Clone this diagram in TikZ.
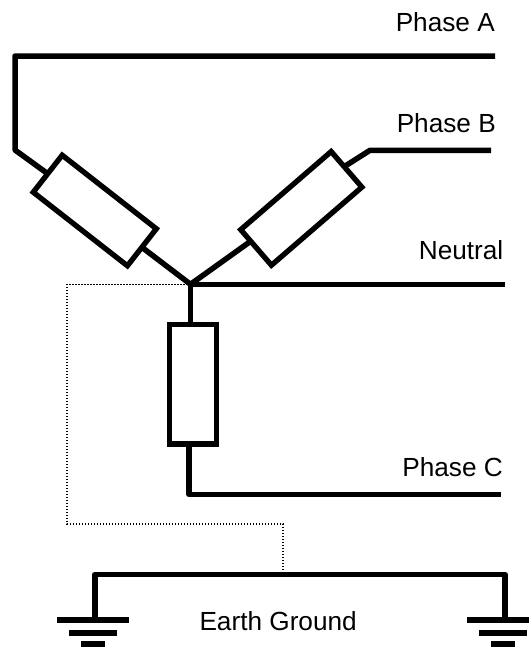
\documentclass[tikz,border=0pt]{standalone}
\usepackage{fontspec}
\setmainfont{Liberation Sans}
\tikzset{
  wire/.style={line width=5.5pt,line cap=butt,line join=round},
  res/.style={draw,line width=5.3pt,fill=white,rectangle,inner sep=0pt,outer sep=0pt,minimum width=119.5pt,minimum height=47pt},
  earthwire/.style={line width=1.3pt,dash pattern=on 1.5pt off 1.5pt},
  lab/.style={font=\fontsize{26.2}{29}\selectfont,inner sep=0pt,anchor=base east},
  gbar/.style={line width=6pt}
}
\begin{document}
\begin{tikzpicture}[x=1pt,y=-1pt]
\useasboundingbox (0,0) rectangle (529,648);
\coordinate (ea) at (495,56);
\coordinate (ca) at (15,56);
\coordinate (la) at (15,150);
\coordinate (eb) at (491,150.3);
\coordinate (lb) at (370,150.3);
\coordinate (st) at (190.5,284.3);
\coordinate (en) at (505,284.3);
\coordinate (lc) at (189,494.3);
\coordinate (ec) at (501,494.3);
\coordinate (d1) at (67,284.3);
\coordinate (d2) at (67,524);
\coordinate (d3) at (283,524);
\coordinate (d4) at (283,572);
\coordinate (g1) at (95,574.3);
\coordinate (g2) at (505,574.3);
\coordinate (g1b) at (95,620);
\coordinate (g2b) at (505,620);
\coordinate (ba) at (251,241);
\coordinate (bb) at (346,165.5);
\node[res,rotate=-38] (ra) at (94.8,210.5) {};
\node[res,rotate=40.8] (rb) at (301.3,208.4) {};
\node[res,rotate=90] (rc) at (193,384.2) {};
\draw[earthwire] (st) -- (d1) -- (d2) -- (d3) -- (d4);
\draw[wire] (ea) -- (ca) -- (la) -- (ra.west);
\draw[wire] (ra.east) -- (st);
\draw[wire] (st) -- (ba);
\draw[wire] (bb) -- (lb) -- (eb);
\draw[wire] (st) -- (en);
\draw[wire] (st) -- (st |- rc.east);
\draw[wire] (lc |- rc.west) -- (lc) -- (ec);
\draw[wire] (g1b) -- (g1) -- (g2) -- (g2b);
\draw[gbar] (57,620) -- (129,620) (69,632.5) -- (117,632.5) (81,644) -- (105,644);
\draw[gbar] (467,620) -- (529,620) (479,632.5) -- (527,632.5) (491,644) -- (515,644);
\node[lab] (ta) at (495,31) {Phase A};
\node[lab] (tb) at (496,132.7) {Phase B};
\node[lab] (tn) at (503.5,259) {Neutral};
\node[lab] (tc) at (503,476.7) {Phase C};
\node[lab] (tg) at (357,630) {Earth Ground};
\end{tikzpicture}
\end{document}
